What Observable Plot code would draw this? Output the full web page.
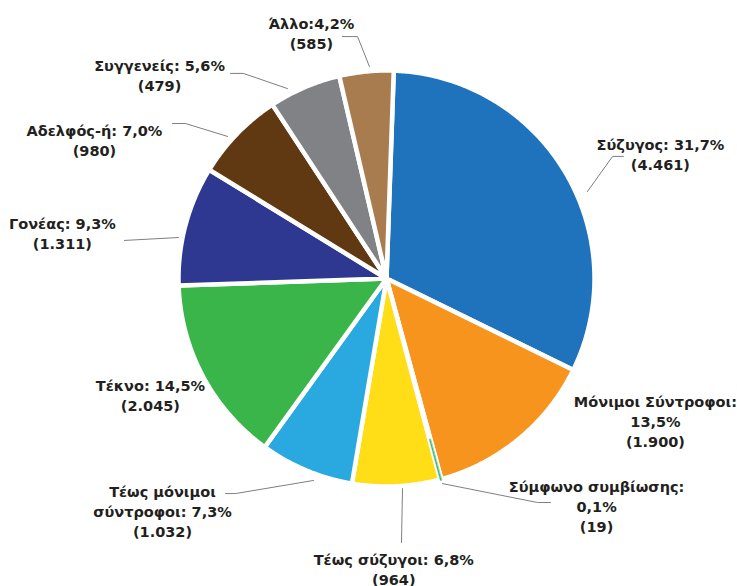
<!DOCTYPE html>
<html><head><meta charset="utf-8">
<script src="https://cdn.jsdelivr.net/npm/d3@7"></script>
<script src="https://cdn.jsdelivr.net/npm/@observablehq/plot@0.6"></script>
<style>body{margin:0;background:#fff} #chart{width:737px;height:586px}</style>
</head><body><div id="chart"></div>
<script>
// ---- data ----
const categories = ["Σύζυγος", "Μόνιμοι Σύντροφοι", "Σύμφωνο συμβίωσης", "Τέως σύζυγοι", "Τέως μόνιμοι\nσύντροφοι", "Τέκνο", "Γονέας", "Αδελφός-ή", "Συγγενείς", "Άλλο"];
const percents = [31.7, 13.5, 0.1, 6.8, 7.3, 14.5, 9.3, 7.0, 5.6, 4.2];
const counts = [4461, 1900, 19, 964, 1032, 2045, 1311, 980, 479, 585];

// ---- styles ----
const colors = ["#1f73bc", "#f7941d", "#3cb878", "#ffdd17", "#29a9e0", "#3ab54a", "#2e3891", "#603913", "#808285", "#a97c50"];
// separator between name+colon and the percentage
const labelSep = [" ", "\n", "\n", " ", " ", " ", " ", " ", " ", ""];
// label centres in pie-radius units (radius = 1, y up)
const labelAt = [[1.317, 0.601], [1.293, -0.683], [1.010, -1.091], [0.035, -1.394], [-1.077, -1.115], [-1.135, -0.558], [-1.558, 0.221], [-1.404, 0.668], [-1.091, 0.981], [-0.361, 1.183]];
// leader polylines in pie-radius units (null = no leader)
const leaderAt = [
  [[1.139, 0.587], [1.087, 0.587], [0.966, 0.418]],
  null,
  [[0.788, -1.077], [0.726, -1.077], [0.269, -0.986]],
  [[0.072, -1.269], [0.077, -1.010]],
  [[-0.774, -1.034], [-0.726, -1.034], [-0.351, -0.971]],
  null,
  [[-1.260, 0.183], [-1.0, 0.197]],
  [[-1.029, 0.745], [-0.966, 0.745], [-0.764, 0.683]],
  [[-0.750, 0.986], [-0.688, 0.986], [-0.476, 0.913]],
  [[-0.212, 1.163], [-0.139, 1.163], [-0.082, 1.019]]
];
const startDeg = 2;

// ---- build geometry ----
const greek = d3.formatLocale({decimal: ",", thousands: ".", grouping: [3], currency: ["", "€"]});
const fmtCount = greek.format(",d");
const fmtPct = greek.format(".1f");

const arcs = d3.pie().sort(null).value(d => d)
  .startAngle(startDeg * Math.PI / 180)
  .endAngle(2 * Math.PI + startDeg * Math.PI / 180)(percents);

function ring(a0, a1, r0, r1) {
  const n = Math.max(2, Math.ceil((a1 - a0) / (0.5 * Math.PI / 180)));
  const pts = [];
  for (let k = 0; k <= n; ++k) {
    const a = a0 + (a1 - a0) * k / n;
    pts.push([r1 * Math.sin(a), r1 * Math.cos(a)]);
  }
  if (r0 === 0) pts.push([0, 0]);
  else for (let k = n; k >= 0; --k) {
    const a = a0 + (a1 - a0) * k / n;
    pts.push([r0 * Math.sin(a), r0 * Math.cos(a)]);
  }
  pts.push(pts[0]);
  return pts;
}

const slices = arcs.map((a, i) => ({
  type: "Feature",
  properties: {i, color: colors[i]},
  geometry: {type: "Polygon", coordinates: [ring(a.startAngle, a.endAngle, 0, 1)]}
}));
// very thin slices: keep a visible sliver near the rim
const thin = arcs.map((a, i) => ({a, i})).filter(d => percents[d.i] < 1).map(({a, i}) => ({
  type: "Feature",
  properties: {i, color: colors[i]},
  geometry: {type: "Polygon", coordinates: [ring(a.startAngle, a.endAngle, 0.8, 1.005)]}
}));

const labels = categories.map((c, i) => ({
  x: labelAt[i][0], y: labelAt[i][1],
  text: `${c}:${labelSep[i]}${fmtPct(percents[i])}%\n(${fmtCount(counts[i])})`
}));
const leaders = leaderAt.flatMap((pts, i) => pts ? pts.map(([x, y]) => ({x, y, k: i})) : []);

const frame = {type: "Feature", geometry: {type: "Polygon", coordinates: [[[-1, -1], [1, -1], [1, 1], [-1, 1], [-1, -1]]]}};

const chart = Plot.plot({
  width: 737, height: 586,
  marginLeft: 178, marginRight: 143, marginTop: 70, marginBottom: 100,
  projection: {type: "reflect-y", domain: frame, clip: false},
  style: {background: "#fff"},
  marks: [
    Plot.geo(slices, {fill: d => d.properties.color, stroke: "#fff", strokeWidth: 4.5}),
    Plot.geo(thin, {fill: d => d.properties.color, stroke: d => d.properties.color, strokeWidth: 0.5}),
    Plot.line(leaders, {x: "x", y: "y", z: "k", stroke: "#7f7f7f", strokeWidth: 1}),
    Plot.text(labels, {x: "x", y: "y", text: "text", fontSize: 14.5, fontWeight: "bold",
      fontFamily: "'DejaVu Sans', sans-serif", fill: "#231f20", lineHeight: 1.38, textAnchor: "middle"})
  ]
});
document.getElementById("chart").appendChild(chart);
</script>
</body></html>
